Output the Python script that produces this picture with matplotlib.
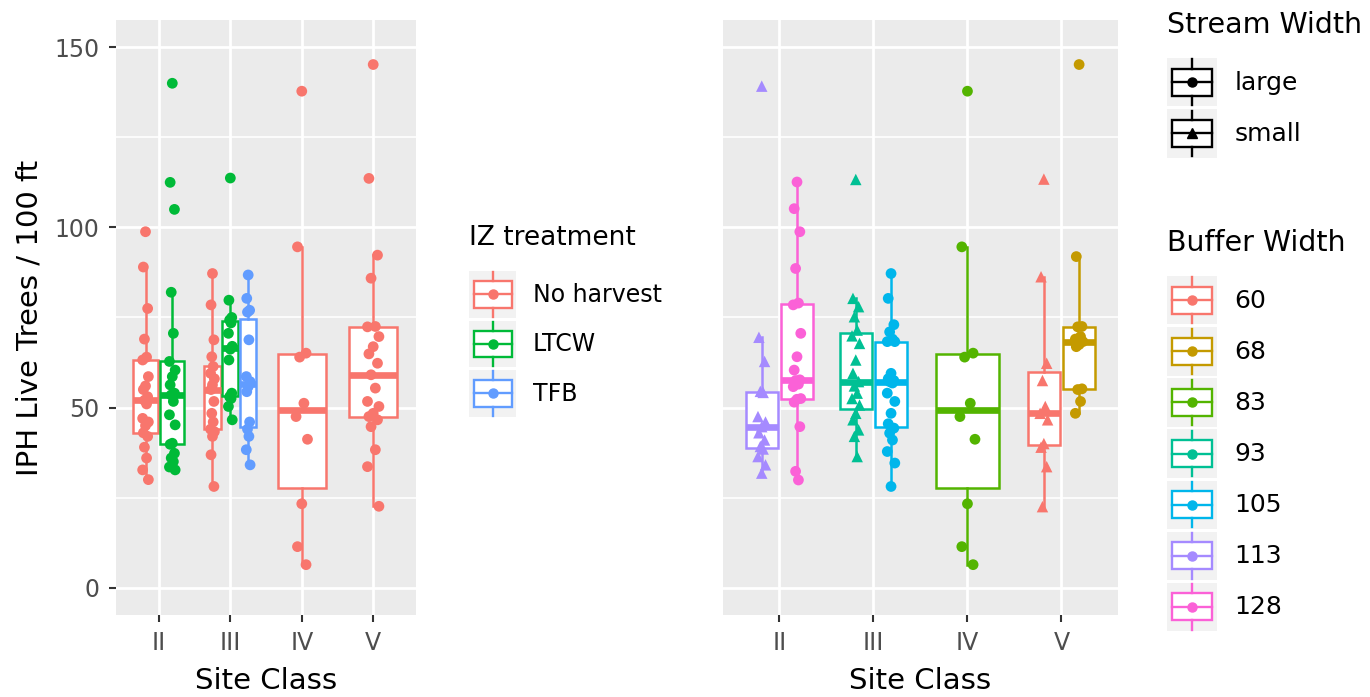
import matplotlib
matplotlib.use("Agg")
import matplotlib.pyplot as plt
from matplotlib.lines import Line2D
from matplotlib.patches import Rectangle
from matplotlib.legend_handler import HandlerBase
import numpy as np


SITES = ['II', 'III', 'IV', 'V']

# Left panel: IPH live trees by IZ treatment
iz_levels = ['No harvest', 'LTCW', 'TFB']
iz_colors = ['#F8766D', '#00BA38', '#619CFF']

nh_II = [98.8, 89.0, 77.5, 69.0, 64.0, 63.2, 58.6, 56.0, 55.0, 53.0, 52.0,
         51.0, 47.0, 46.0, 45.0, 43.0, 42.0, 39.0, 36.0, 32.7, 30.0]
ltcw_II = [140.0, 112.5, 105.0, 82.0, 70.6, 62.8, 60.4, 58.6, 56.3, 54.0, 53.5,
           51.7, 48.0, 45.2, 40.1, 39.8, 37.3, 36.0, 35.0, 33.5, 32.7]
nh_III = [87.2, 78.5, 68.8, 64.1, 61.4, 59.5, 58.0, 56.3, 55.0, 51.7, 48.4,
          46.0, 44.0, 43.3, 42.0, 36.9, 28.1]
ltcw_III = [113.7, 79.8, 75.0, 74.3, 73.5, 70.6, 67.0, 66.2, 63.2, 54.0, 53.0,
            52.5, 50.3, 46.6]
tfb_III = [86.8, 80.3, 77.0, 76.5, 68.8, 58.6, 57.2, 55.8, 54.4, 46.0, 44.0,
           42.0, 38.3, 34.1]
nh_IV = [137.8, 94.6, 65.1, 64.0, 51.2, 47.5, 41.2, 23.3, 11.4, 6.4]
nh_V = [145.2, 113.6, 92.3, 85.9, 72.5, 72.4, 69.7, 66.9, 64.9, 62.3, 59.1,
        55.4, 51.7, 50.3, 48.4, 47.5, 46.6, 44.7, 38.3, 33.6, 22.6]

left_groups = [
    ('II', 'No harvest', nh_II),
    ('II', 'LTCW', ltcw_II),
    ('III', 'No harvest', nh_III),
    ('III', 'LTCW', ltcw_III),
    ('III', 'TFB', tfb_III),
    ('IV', 'No harvest', nh_IV),
    ('V', 'No harvest', nh_V),
]

# Right panel: same response by buffer width and stream width
bw_levels = ['60', '68', '83', '93', '105', '113', '128']
bw_colors = ['#F8766D', '#C49A00', '#53B400', '#00C094', '#00B6EB', '#A58AFF', '#FB61D7']
stream_levels = ['large', 'small']
stream_markers = ['o', '^']

bw113 = [139.2, 69.5, 62.8, 54.5, 54.2, 47.5, 46.0, 44.7, 43.0, 41.0, 39.2,
         38.5, 36.4, 34.1, 31.8]
bw128 = [112.6, 105.2, 98.8, 88.6, 79.0, 78.5, 70.6, 64.1, 60.4, 57.7, 57.5,
         56.5, 55.8, 52.5, 52.3, 51.5, 44.7, 32.3, 29.9]
bw93 = [113.3, 80.3, 78.0, 75.2, 71.5, 69.9, 67.8, 63.2, 59.5, 57.2, 56.0,
        54.0, 52.5, 50.7, 48.4, 46.6, 43.8, 42.0, 36.4]
bw105 = [87.2, 80.3, 73.0, 71.0, 69.0, 68.3, 68.3, 59.5, 58.0, 57.5, 57.2,
         56.8, 54.0, 51.7, 48.4, 45.5, 44.3, 42.9, 41.0, 37.8, 34.6, 28.1]
bw83 = [137.8, 94.6, 65.1, 64.0, 51.2, 47.5, 41.2, 23.3, 11.4, 6.4]
bw60 = [113.4, 86.3, 62.3, 57.5, 50.3, 48.4, 46.6, 40.0, 39.0, 33.6, 22.5]
bw68 = [145.2, 91.9, 72.5, 72.4, 69.7, 69.0, 68.3, 67.5, 66.9, 55.2, 55.0,
        51.7, 48.4]

right_groups = [
    ('II', '113', 'small', bw113),
    ('II', '128', 'large', bw128),
    ('III', '93', 'small', bw93),
    ('III', '105', 'large', bw105),
    ('IV', '83', 'large', bw83),
    ('V', '60', 'small', bw60),
    ('V', '68', 'large', bw68),
]

PANEL_BG = '#EBEBEB'
TICK_GREY = '#4D4D4D'
W, H = 1370, 697


class BoxKey(HandlerBase):
    '''Legend key drawn like a ggplot boxplot key with a point on top.'''

    def create_artists(self, legend, orig_handle, xdescent, ydescent,
                       width, height, fontsize, trans):
        c = orig_handle.get_color()
        m = orig_handle.get_marker()
        x0, y0 = -xdescent, -ydescent
        cx, cy = x0 + width / 2, y0 + height / 2
        bg = Rectangle((x0, y0), width, height, facecolor='#F2F2F2',
                       edgecolor='none', transform=trans)
        box = Rectangle((x0 + 0.1 * width, y0 + 0.22 * height), 0.8 * width,
                        0.56 * height, facecolor='white', edgecolor=c, lw=1.7,
                        transform=trans)
        w_top = Line2D([cx, cx], [y0 + 0.78 * height, y0 + 0.97 * height],
                       color=c, lw=1.7, transform=trans)
        w_bot = Line2D([cx, cx], [y0 + 0.03 * height, y0 + 0.22 * height],
                       color=c, lw=1.7, transform=trans)
        med = Line2D([x0 + 0.1 * width, x0 + 0.9 * width], [cy, cy],
                     color=c, lw=1.7, transform=trans)
        pt = Line2D([cx], [cy], marker=m, color=c, markersize=6.5, ls='none',
                    transform=trans)
        return [bg, box, w_top, w_bot, med, pt]


def style_axes(ax):
    ax.set_facecolor(PANEL_BG)
    for s in ax.spines.values():
        s.set_visible(False)
    ax.set_xlim(0.4, 4.6)
    ax.set_ylim(-7.5, 157.5)
    ax.set_xticks(range(1, len(SITES) + 1))
    ax.set_xticklabels(SITES)
    ax.set_yticks([0, 50, 100, 150])
    ax.set_yticks([25, 75, 125], minor=True)
    ax.grid(which='major', color='white', lw=2.0)
    ax.grid(which='minor', axis='y', color='white', lw=1.2)
    ax.set_axisbelow(True)
    ax.tick_params(which='major', length=5, width=1.5, color='#333333',
                   labelcolor=TICK_GREY, labelsize=17, pad=7)
    ax.tick_params(which='minor', length=0)
    ax.set_xlabel('Site Class', fontsize=21, labelpad=8)


def draw_boxes(ax, groups, color_of, marker_of):
    jit = np.array([0.0, -0.03, 0.03, -0.015, 0.015, -0.04, 0.04])
    for si, site in enumerate(SITES):
        here = [g for g in groups if g[0] == site]
        n = len(here)
        w = 0.75 / n
        for i, g in enumerate(here):
            vals = np.array(g[-1])
            pos = si + 1 - 0.375 + w * (i + 0.5)
            c = color_of(g)
            ax.boxplot([vals], positions=[pos], widths=w * 0.9,
                       patch_artist=True, showfliers=False, showcaps=False,
                       manage_ticks=False,
                       boxprops=dict(facecolor='white', edgecolor=c, lw=1.8),
                       whiskerprops=dict(color=c, lw=1.8),
                       medianprops=dict(color=c, lw=4.8, solid_capstyle='butt'),
                       zorder=3)
            xs = pos + np.resize(jit, len(vals)) * (w / 0.375)
            mk = marker_of(g)
            ax.scatter(xs, vals, s=68 if mk == '^' else 60, color=c, marker=mk,
                       edgecolors='none', zorder=4)


fig = plt.figure(figsize=(13.7, 6.97), dpi=100)
axL = fig.add_axes([0.0847, 0.118, 0.219, 0.853])
axR = fig.add_axes([0.5277, 0.118, 0.2883, 0.853])

for ax in (axL, axR):
    style_axes(ax)

draw_boxes(axL, left_groups,
           lambda g: iz_colors[iz_levels.index(g[1])],
           lambda g: 'o')
draw_boxes(axR, right_groups,
           lambda g: bw_colors[bw_levels.index(g[1])],
           lambda g: stream_markers[stream_levels.index(g[2])])

axL.set_ylabel('IPH Live Trees / 100 ft', fontsize=21, labelpad=8)
axR.tick_params(axis='y', which='both', length=0, labelleft=False)


def add_legend(handles, labels, title, x_px, title_y_px, top_px, size, tsize, hh):
    fig.text(x_px / W, 1 - title_y_px / H, title, fontsize=tsize,
             ha='left', va='center')
    fig.legend(handles, labels, loc='upper left',
               bbox_to_anchor=(x_px / W, 1 - top_px / H),
               frameon=False, handler_map={Line2D: BoxKey()},
               handlelength=2.0, handleheight=hh, labelspacing=0.11,
               handletextpad=0.7, borderpad=0, borderaxespad=0,
               fontsize=size)


h_iz = [Line2D([], [], color=c, marker='o') for c in iz_colors]
add_legend(h_iz, iz_levels, 'IZ treatment', 469, 238, 271, 17, 19, 2.68)

h_st = [Line2D([], [], color='black', marker=m) for m in stream_markers]
add_legend(h_st, stream_levels, 'Stream Width', 1167, 25, 58, 18, 20.5, 2.6)

h_bw = [Line2D([], [], color=c, marker='o') for c in bw_colors]
add_legend(h_bw, bw_levels, 'Buffer Width', 1167, 243, 276, 18, 20.5, 2.6)

fig.savefig('out.png', dpi=100)
